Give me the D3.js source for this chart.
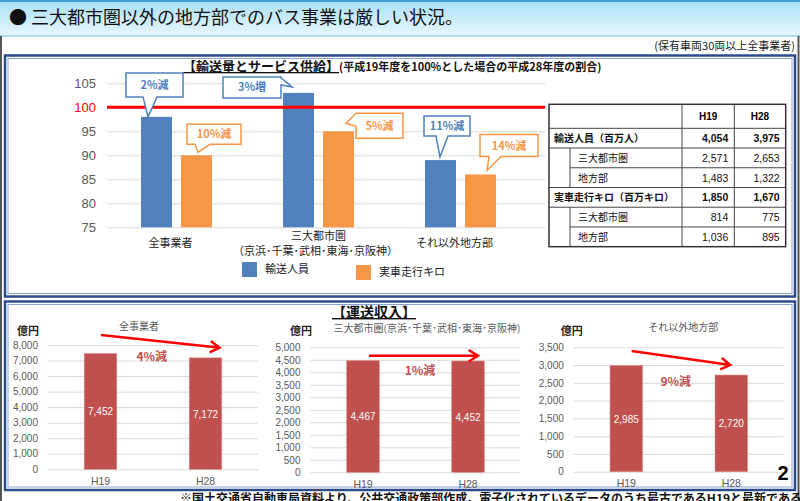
<!DOCTYPE html>
<html>
<head>
<meta charset="utf-8">
<script src="https://cdn.jsdelivr.net/npm/d3@7"></script>
<style>
body { margin: 0; background: #fff; }
svg { display: block; }
text { font-family: "Noto Sans CJK JP", "Noto Sans", sans-serif; }
.num { font-family: "Liberation Sans", Arial, sans-serif; }
</style>
</head>
<body>
<svg width="800" height="501"></svg>
<script>
// 輸送量とサービス供給 (H19 = 100)
var categories = ["全事業者", "三大都市圏", "それ以外地方部"]
var categorySub = ["", "（京浜･千葉･武相･東海･京阪神）", ""]
var series = ["輸送人員", "実車走行キロ"]
var passengerPct = [98, 103, 89]
var kmPct = [90, 95, 86]
var passengerNote = ["2%減", "3%増", "11%減"]
var kmNote = ["10%減", "5%減", "14%減"]
var topTicks = [75, 80, 85, 90, 95, 100, 105]

// 表
var tableCols = ["H19", "H28"]
var tableRows = ["輸送人員（百万人）", "三大都市圏", "地方部", "実車走行キロ（百万キロ）", "三大都市圏", "地方部"]
var tableMajor = [true, false, false, true, false, false]
var tableH19 = [4054, 2571, 1483, 1850, 814, 1036]
var tableH28 = [3975, 2653, 1322, 1670, 775, 895]

// 運送収入 (億円)
var revYears = ["H19", "H28"]
var revTitles = ["全事業者", "三大都市圏(京浜･千葉･武相･東海･京阪神)", "それ以外地方部"]
var revH19 = [7452, 4467, 2985]
var revH28 = [7172, 4452, 2720]
var revChange = ["4%減", "1%減", "9%減"]
var revMax = [8000, 5000, 3500]
var revStep = [1000, 500, 500]

var blue = "#4F81BD", orange = "#F79646", red = "#C0504D"
var fmt = d3.format(",")

var svg = d3.select("svg")

// ---- 背景・枠
var defs = svg.append("defs")
var grad = defs.append("linearGradient").attr("id", "titleGrad")
    .attr("x1", 0).attr("y1", 0).attr("x2", 0).attr("y2", 1)
grad.append("stop").attr("offset", "0%").attr("stop-color", "#a9dff5")
grad.append("stop").attr("offset", "100%").attr("stop-color", "#e8f7fd")

svg.append("rect").attr("x", 0).attr("y", 0).attr("width", 800).attr("height", 36)
    .attr("fill", "url(#titleGrad)")
svg.append("line").attr("x1", 0).attr("x2", 800).attr("y1", 1).attr("y2", 1)
    .attr("stroke", "#3d9fd6").attr("stroke-width", 2)
svg.append("line").attr("x1", 0).attr("x2", 800).attr("y1", 36).attr("y2", 36)
    .attr("stroke", "#6bb6dc").attr("stroke-width", 1)
svg.append("line").attr("x1", 1).attr("x2", 1).attr("y1", 36).attr("y2", 501)
    .attr("stroke", "#555").attr("stroke-width", 2)
svg.append("line").attr("x1", 798.5).attr("x2", 798.5).attr("y1", 36).attr("y2", 501)
    .attr("stroke", "#555").attr("stroke-width", 2)

svg.append("text").attr("x", 9).attr("y", 24)
    .style("font-size", "18px").attr("fill", "#111")
    .text("● 三大都市圏以外の地方部でのバス事業は厳しい状況。")

svg.append("text").attr("x", 795).attr("y", 50).attr("text-anchor", "end")
    .style("font-size", "11px").attr("fill", "#222")
    .text("(保有車両30両以上全事業者)")

function panel(x, y, w, h) {
  svg.append("rect").attr("x", x).attr("y", y).attr("width", w).attr("height", h)
      .attr("fill", "#fff").attr("stroke", "#2B4C8C").attr("stroke-width", 2.5)
  svg.append("rect").attr("x", x + 3).attr("y", y + 3).attr("width", w - 6).attr("height", h - 6)
      .attr("fill", "none").attr("stroke", "#8aa3d4").attr("stroke-width", 1)
}
panel(5, 55.5, 790, 241)
panel(5, 301.5, 790, 188.5)

// ---- 上段グラフ
var title1 = svg.append("text").attr("x", 183).attr("y", 71).attr("fill", "#111")
title1.append("tspan").style("font-size", "13px").style("font-weight", "bold")
    .style("text-decoration", "underline").text("【輸送量とサービス供給】")
title1.append("tspan").style("font-size", "11px").style("font-weight", "bold")
    .text("(平成19年度を100%とした場合の平成28年度の割合)")

var y = d3.scaleLinear().domain([75, 105]).range([227.3, 83.3])
var x0 = d3.scaleBand().domain(categories).range([105.5, 531.5])
    .paddingInner(0.5).paddingOuter(0.25)
var x1 = d3.scaleBand().domain(series).range([0, x0.bandwidth()]).paddingInner(0.225)

var topG = svg.append("g")

var yAxis = topG.append("g").attr("transform", "translate(107,0)")
    .call(d3.axisLeft(y).tickValues(topTicks).tickSizeInner(-438).tickSizeOuter(0).tickPadding(11))
yAxis.select(".domain").remove()
yAxis.selectAll("line").attr("stroke", "#d9d9d9")
yAxis.selectAll("text").attr("class", "num").style("font-size", "13px")
    .attr("fill", function(d) { return d === 100 ? "#ff0000" : "#595959" })

var rows = categories.map(function(c, i) {
  return [
    { cat: c, s: series[0], v: passengerPct[i], note: passengerNote[i], color: blue },
    { cat: c, s: series[1], v: kmPct[i], note: kmNote[i], color: orange }
  ]
})

topG.selectAll("g.cat").data(rows).enter().append("g").attr("class", "cat")
    .attr("transform", function(d, i) { return "translate(" + x0(categories[i]) + ",0)" })
  .selectAll("rect").data(function(d) { return d }).enter().append("rect")
    .attr("x", function(d) { return x1(d.s) })
    .attr("y", function(d) { return y(d.v) })
    .attr("width", x1.bandwidth())
    .attr("height", function(d) { return y(75) - y(d.v) })
    .attr("fill", function(d) { return d.color })

// 100% 線
topG.append("line").attr("x1", 107).attr("x2", 545).attr("y1", y(100)).attr("y2", y(100))
    .attr("stroke", "#ff0000").attr("stroke-width", 3)

// 吹き出し (バー左上を基準にした位置)
var calloutLayout = [
  [{ bx: -15, by: -44, w: 57, h: 24, side: "bottom", a: 2, c: 16, tx: 7, ty: 0 },
   { bx: 6, by: -31, w: 54, h: 20, side: "bottom", a: 14, c: 29, tx: 17, ty: -3 }],
  [{ bx: -60, by: -16, w: 58, h: 21, side: "right", a: -15, c: -8, tx: 9, ty: -6 },
   { bx: 33, by: -18, w: 47, h: 25, side: "left", a: -18, c: -5, tx: 23, ty: -8 }],
  [{ bx: -1, by: -44, w: 46, h: 20, side: "bottom", a: 11, c: 23, tx: 15, ty: -3 },
   { bx: 15, by: -40, w: 58, h: 22, side: "bottom", a: 24, c: 36, tx: 22, ty: -4 }]
]

function calloutPath(bx, by, L) {
  var x = bx + L.bx, yy = by + L.by, w = L.w, h = L.h
  var tip = (bx + L.tx) + "," + (by + L.ty)
  var p = "M" + x + "," + yy + " L" + (x + w) + "," + yy
  if (L.side === "right") p += " L" + (x + w) + "," + (by + L.a) + " L" + tip + " L" + (x + w) + "," + (by + L.c)
  p += " L" + (x + w) + "," + (yy + h)
  if (L.side === "bottom") p += " L" + (bx + L.c) + "," + (yy + h) + " L" + tip + " L" + (bx + L.a) + "," + (yy + h)
  p += " L" + x + "," + (yy + h)
  if (L.side === "left") p += " L" + x + "," + (by + L.c) + " L" + tip + " L" + x + "," + (by + L.a)
  return p + " Z"
}

rows.forEach(function(pair, i) {
  pair.forEach(function(d, j) {
    var L = calloutLayout[i][j]
    var bx = x0(d.cat) + x1(d.s), by = y(d.v)
    topG.append("path").attr("d", calloutPath(bx, by, L))
        .attr("fill", "#fff").attr("stroke", d.color).attr("stroke-width", 1.5)
    topG.append("text").attr("x", bx + L.bx + L.w / 2).attr("y", by + L.by + L.h / 2 + 4)
        .attr("text-anchor", "middle").style("font-size", "11px").style("font-weight", "bold")
        .attr("fill", d.color).text(d.note)
  })
})

// カテゴリラベル
categories.forEach(function(c, i) {
  var cx = x0(c) + x0.bandwidth() / 2
  if (categorySub[i]) {
    topG.append("text").attr("x", cx).attr("y", 240).attr("text-anchor", "middle")
        .style("font-size", "11px").attr("fill", "#222").text(c)
    topG.append("text").attr("x", cx - 3).attr("y", 254.5).attr("text-anchor", "middle")
        .style("font-size", "11px").attr("fill", "#222").text(categorySub[i])
  } else {
    topG.append("text").attr("x", cx - 6).attr("y", 247).attr("text-anchor", "middle")
        .style("font-size", "11px").attr("fill", "#222").text(c)
  }
})

// 凡例
var legendPos = [[242, 262], [356, 265]]
series.forEach(function(s, i) {
  topG.append("rect").attr("x", legendPos[i][0]).attr("y", legendPos[i][1])
      .attr("width", 15).attr("height", 15).attr("fill", i === 0 ? blue : orange)
  topG.append("text").attr("x", legendPos[i][0] + 23).attr("y", legendPos[i][1] + 11)
      .style("font-size", "11px").attr("fill", "#222").text(s)
})

// ---- 表
var tx = [549, 570, 682, 734.3, 785.7]
var headTop = 104.3, headH = 24, rowH = 19.73
var tbl = svg.append("g")
function rowTop(i) { return headTop + headH + i * rowH }

tbl.append("text").attr("class", "num").attr("x", (tx[2] + tx[3]) / 2).attr("y", headTop + 16)
    .attr("text-anchor", "middle").style("font-size", "10px").style("font-weight", "bold").text(tableCols[0])
tbl.append("text").attr("class", "num").attr("x", (tx[3] + tx[4]) / 2).attr("y", headTop + 16)
    .attr("text-anchor", "middle").style("font-size", "10px").style("font-weight", "bold").text(tableCols[1])

tableRows.forEach(function(r, i) {
  var ty = rowTop(i) + rowH / 2 + 4
  var w = tableMajor[i] ? "bold" : "normal"
  tbl.append("text").attr("x", tableMajor[i] ? tx[0] + 5 : tx[1] + 8).attr("y", ty)
      .style("font-size", "10px").style("font-weight", w).attr("fill", "#111").text(r)
  tbl.append("text").attr("class", "num").attr("x", tx[3] - 6).attr("y", ty).attr("text-anchor", "end")
      .style("font-size", "10.5px").style("font-weight", w).attr("fill", "#111").text(fmt(tableH19[i]))
  tbl.append("text").attr("class", "num").attr("x", tx[4] - 6).attr("y", ty).attr("text-anchor", "end")
      .style("font-size", "10.5px").style("font-weight", w).attr("fill", "#111").text(fmt(tableH28[i]))
  // 行の上の線
  var lx = (tableMajor[i] || (i > 0 && tableMajor[i - 1])) ? tx[0] : tx[1]
  tbl.append("line").attr("x1", lx).attr("x2", tx[4]).attr("y1", rowTop(i)).attr("y2", rowTop(i))
      .attr("stroke", "#444").attr("stroke-width", 1)
  if (!tableMajor[i]) {
    tbl.append("line").attr("x1", tx[1]).attr("x2", tx[1]).attr("y1", rowTop(i)).attr("y2", rowTop(i) + rowH)
        .attr("stroke", "#444").attr("stroke-width", 1)
  }
})
var tableBottom = rowTop(tableRows.length)
;[tx[2], tx[3]].forEach(function(v) {
  tbl.append("line").attr("x1", v).attr("x2", v).attr("y1", headTop).attr("y2", tableBottom)
      .attr("stroke", "#444").attr("stroke-width", 1)
})
tbl.append("rect").attr("x", tx[0]).attr("y", headTop).attr("width", tx[4] - tx[0])
    .attr("height", tableBottom - headTop).attr("fill", "none").attr("stroke", "#333").attr("stroke-width", 1.5)

// ---- 下段: 運送収入
svg.append("text").attr("x", 374).attr("y", 317).attr("text-anchor", "middle")
    .style("font-size", "14px").style("font-weight", "bold").style("text-decoration", "underline")
    .attr("fill", "#111").text("【運送収入】")

var revLayout = [
  { x0: 48, x1: 258, y0: 469.3, y1: 345, unitX: 17, titleX: 139, titleY: 330, arrow: [0.4, -18.5, 14, -10.2], chg: [151.7, 360.5] },
  { x0: 310.5, x1: 520.5, y0: 472.3, y1: 347.3, unitX: 290, titleX: 427, titleY: 332, arrow: [6, -5, 10, -5.3], chg: [420, 375] },
  { x0: 573.8, x1: 783.8, y0: 471.7, y1: 347.3, unitX: 560.7, titleX: 683.3, titleY: 331, arrow: [5.4, -14.6, -1, -10], chg: [675.7, 386] }
]

revTitles.forEach(function(t, i) {
  var L = revLayout[i]
  var g = svg.append("g")
  var ry = d3.scaleLinear().domain([0, revMax[i]]).range([L.y0, L.y1])
  var rx = d3.scaleBand().domain(revYears).range([L.x0, L.x1]).paddingInner(0.69).paddingOuter(0.345)

  var ax = g.append("g").attr("transform", "translate(" + L.x0 + ",0)")
      .call(d3.axisLeft(ry).tickValues(d3.range(0, revMax[i] + 1, revStep[i]))
        .tickFormat(fmt).tickSizeInner(-(L.x1 - L.x0)).tickSizeOuter(0).tickPadding(10))
  ax.select(".domain").remove()
  ax.selectAll("line").attr("stroke", "#d9d9d9")
  ax.selectAll("text").attr("class", "num").style("font-size", "10px").attr("fill", "#595959")

  var xa = g.append("g").attr("transform", "translate(0," + L.y0 + ")")
      .call(d3.axisBottom(rx).tickSize(0).tickPadding(8))
  xa.select(".domain").remove()
  xa.selectAll("text").attr("class", "num").style("font-size", "10.5px").attr("fill", "#595959")

  var vals = [revH19[i], revH28[i]]
  g.selectAll("rect.bar").data(vals).enter().append("rect").attr("class", "bar")
      .attr("x", function(d, j) { return rx(revYears[j]) })
      .attr("y", function(d) { return ry(d) })
      .attr("width", rx.bandwidth())
      .attr("height", function(d) { return L.y0 - ry(d) })
      .attr("fill", red).attr("stroke", "#d98a88").attr("stroke-width", 0.6)
  g.selectAll("text.val").data(vals).enter().append("text").attr("class", "val num")
      .attr("x", function(d, j) { return rx(revYears[j]) + rx.bandwidth() / 2 })
      .attr("y", function(d) { return (ry(d) + L.y0) / 2 + 4 })
      .attr("text-anchor", "middle").style("font-size", "10px").attr("fill", "#fff")
      .text(function(d) { return fmt(d) })

  g.append("text").attr("x", L.unitX).attr("y", 335).style("font-size", "11px")
      .style("font-weight", "bold").attr("fill", "#222").text("億円")
  g.append("text").attr("x", L.titleX).attr("y", L.titleY).attr("text-anchor", "middle")
      .style("font-size", "10px").attr("fill", "#595959").text(t)

  // 矢印
  var sx = rx(revYears[0]) + rx.bandwidth() / 2 + L.arrow[0], sy = ry(vals[0]) + L.arrow[1]
  var ex = rx(revYears[1]) + rx.bandwidth() / 2 + L.arrow[2], ey = ry(vals[1]) + L.arrow[3]
  var ang = Math.atan2(ey - sy, ex - sx)
  g.append("line").attr("x1", sx).attr("y1", sy).attr("x2", ex - 1.5 * Math.cos(ang)).attr("y2", ey - 1.5 * Math.sin(ang))
      .attr("stroke", "#ff0000").attr("stroke-width", 2.5)
  var head = [[ex - 11 * Math.cos(ang - 0.55), ey - 11 * Math.sin(ang - 0.55)], [ex, ey],
              [ex - 11 * Math.cos(ang + 0.55), ey - 11 * Math.sin(ang + 0.55)]]
  g.append("path").attr("d", d3.line()(head)).attr("fill", "none")
      .attr("stroke", "#ff0000").attr("stroke-width", 2.5).attr("stroke-linejoin", "miter")

  g.append("text").attr("x", L.chg[0]).attr("y", L.chg[1]).attr("text-anchor", "middle")
      .style("font-size", "12px").style("font-weight", "bold").attr("fill", red).text(revChange[i])
})

svg.append("text").attr("class", "num").attr("x", 783).attr("y", 480).attr("text-anchor", "middle")
    .style("font-size", "20px").style("font-weight", "bold").attr("fill", "#000").text("2")

svg.append("text").attr("x", 180).attr("y", 503)
    .style("font-size", "12px").style("font-weight", "bold").attr("fill", "#111")
    .text("※国土交通省自動車局資料より、公共交通政策部作成。電子化されているデータのうち最古であるH19と最新であるH28を比較")
</script>
</body>
</html>
